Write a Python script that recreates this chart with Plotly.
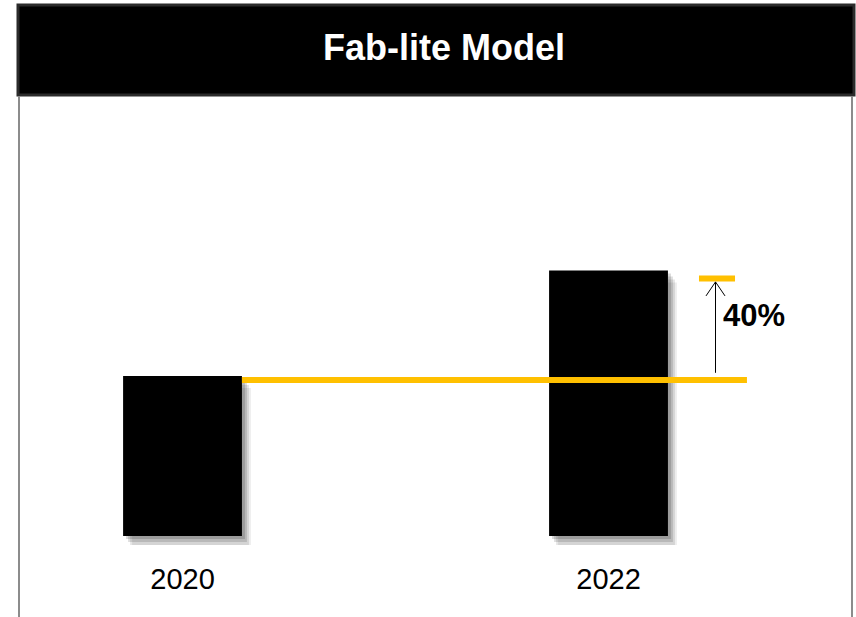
import plotly.graph_objects as go

# data
years = ["2020", "2022"]
values = [100, 166]
base_level = 97.5      # yellow reference line (2020 level)
target_level = 161     # yellow target mark
growth_label = "40%"

W, H = 856, 617
x_pos = [0, 1]
bar_w = 0.279

# pixel geometry of the plot area
x0_px, x1_px = 20, 852
y_top_px, y_bot_px = 95, 545
x_range = [-0.3815, 1.5716]
y_range = [-5.625, 275.625]
px_x = (x1_px - x0_px) / (x_range[1] - x_range[0])
px_y = (y_bot_px - y_top_px) / (y_range[1] - y_range[0])

yellow = "#FFC000"

fig = go.Figure()

# soft drop shadows behind bars
for dx, dy, alpha in [(9, 12, 0.07), (7, 9, 0.10), (5, 6, 0.13), (3, 3, 0.15)]:
    fig.add_trace(go.Bar(
        x=x_pos, y=values,
        base=-dy / px_y,
        width=bar_w,
        offset=-bar_w / 2 + dx / px_x,
        marker=dict(color=f"rgba(0,0,0,{alpha})", line=dict(width=0)),
        hoverinfo="skip", showlegend=False,
    ))

# main bars
fig.add_trace(go.Bar(
    x=x_pos, y=values, width=bar_w,
    marker=dict(color="#000000", line=dict(width=0)),
    showlegend=False,
))

# yellow reference line from 2020 bar edge to beyond 2022 bar
line_end = 1.325
fig.add_trace(go.Scatter(
    x=[x_pos[0] + bar_w / 2, line_end], y=[base_level, base_level],
    mode="lines", line=dict(color=yellow, width=6),
    hoverinfo="skip", showlegend=False,
))
# short target mark
fig.add_trace(go.Scatter(
    x=[1.2124, 1.297], y=[target_level, target_level],
    mode="lines", line=dict(color=yellow, width=6),
    hoverinfo="skip", showlegend=False,
))

# growth arrow: thin shaft with open chevron head
arrow_x = 1.25 + 0.5 / px_x
tip_y = target_level - 2.2
tail_y = base_level + 4.5
fig.add_shape(type="line", xref="x", yref="y",
              x0=arrow_x, x1=arrow_x, y0=tail_y, y1=tip_y,
              line=dict(color="#000000", width=1))
hx, hy = 9.5 / px_x, 14 / px_y
fig.add_shape(type="path", xref="x", yref="y",
              path=f"M {arrow_x - hx},{tip_y - hy} L {arrow_x},{tip_y} L {arrow_x + hx},{tip_y - hy}",
              line=dict(color="#000000", width=1))

fig.add_annotation(
    x=1.264, y=138, xref="x", yref="y", xanchor="left", yanchor="middle",
    text="<b>" + growth_label + "</b>", showarrow=False,
    font=dict(family="Liberation Sans, Arial", size=31, color="#000000"),
)

# frame: title bar and side borders
fig.add_shape(type="rect", xref="paper", yref="paper",
              x0=18 / W, x1=854 / W, y0=1 - 95 / H, y1=1 - 5 / H,
              fillcolor="#000000", line=dict(color="#2b2b2b", width=3), layer="above")
for bx in [19, 852]:
    fig.add_shape(type="line", xref="paper", yref="paper",
                  x0=bx / W, x1=bx / W, y0=0, y1=1 - 96 / H,
                  line=dict(color="#8c8c8c", width=2))

fig.add_annotation(
    x=444 / W, y=1 - 48 / H, xref="paper", yref="paper",
    xanchor="center", yanchor="middle",
    text="<b>Fab-lite Model</b>", showarrow=False,
    font=dict(family="Liberation Sans, Arial", size=36, color="#ffffff"),
)

fig.update_layout(
    width=W, height=H,
    barmode="overlay",
    margin=dict(l=0, r=0, t=0, b=0),
    paper_bgcolor="#ffffff", plot_bgcolor="#ffffff",
    xaxis=dict(
        domain=[x0_px / W, x1_px / W], range=x_range,
        tickvals=x_pos, ticktext=years, ticks="", showgrid=False,
        zeroline=False, showline=False, ticklabelstandoff=14,
        tickfont=dict(family="Liberation Sans, Arial", size=29, color="#000000"),
    ),
    yaxis=dict(
        domain=[1 - y_bot_px / H, 1 - y_top_px / H], range=y_range,
        showticklabels=False, showgrid=False, zeroline=False, showline=False,
    ),
)

fig.write_html("out.html", config={"displayModeBar": False},
               post_script="document.body.style.margin='0';")
